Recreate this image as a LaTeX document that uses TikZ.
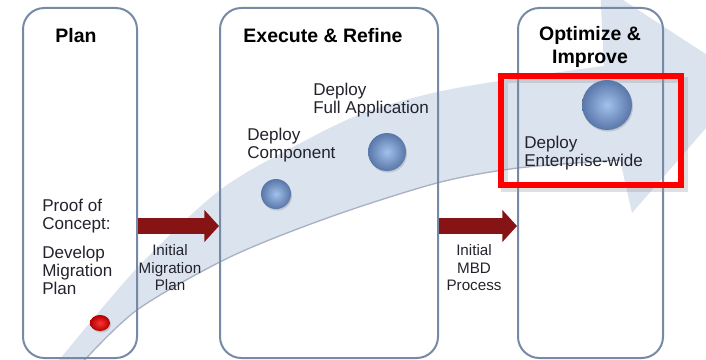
\documentclass[tikz,border=0pt]{standalone}
\usepackage{fontspec}
\setmainfont{Liberation Sans}
\usetikzlibrary{arrows.meta,shapes.geometric,shadows}
\definecolor{phaseline}{RGB}{118,138,166}
\definecolor{bandblue}{RGB}{219,227,238}
\definecolor{bandedge}{RGB}{168,178,194}
\definecolor{ballhi}{RGB}{162,194,236}
\definecolor{ballrim}{RGB}{88,118,168}
\definecolor{arrowred}{RGB}{135,20,20}
\definecolor{textgray}{RGB}{35,35,45}

\begin{document}
\begin{tikzpicture}[x=0.75pt,y=-0.75pt]

\tikzstyle{phase} = [draw=phaseline, line width=1.5pt, rounded corners=16pt,
minimum height=262.5pt, inner sep=0]
\tikzstyle{title} = [font=\bfseries\fontsize{14.6}{17.2}\selectfont, align=center, inner sep=0]
\tikzstyle{txt} = [font=\fontsize{12.8}{13.5}\selectfont, text=textgray, align=left, anchor=west, inner sep=0]
\tikzstyle{smalltxt} = [font=\fontsize{11.4}{13.1}\selectfont, text=textgray, align=center, inner sep=0]
\tikzstyle{sphere} = [circle, inner sep=0, shading=radial, inner color=ballhi, outer color=ballrim,
drop shadow={opacity=0.3, shadow xshift=0.8pt, shadow yshift=-1.2pt}]
\tikzstyle{move} = [draw=arrowred, line width=11.5pt, -{Triangle[length=11pt,width=23.5pt]}]
\tikzstyle{focusbox} = [draw=red, line width=4.5pt, minimum width=135pt, minimum height=81.75pt,
inner sep=0, general shadow={shadow xshift=2.5pt, shadow yshift=-3pt, draw=black!40, line width=5pt, opacity=0.3}]

\useasboundingbox (0,0) rectangle (706,360);

% big swoosh arrow behind the phases
\begin{scope}
\clip (0,0) rectangle (706,360);
\fill[bandblue] plot[smooth] coordinates {(55,365) (137,268) (220,190) (297,145) (363,113) (437,92) (518,78) (604,66)}
 -- (600,-15) -- (747,81) -- (632,213)
 -- plot[smooth] coordinates {(620,160) (518,168) (437,183) (330,217) (230,257) (137,310) (80,365)} -- cycle;
\draw[bandedge, line width=1pt] plot[smooth] coordinates {(620,160) (518,168) (437,183) (330,217) (230,257) (137,310) (80,365)};
\end{scope}

% phases
\node [phase, minimum width=85.5pt] (plan) at (80,183) {};
\node [phase, minimum width=163.5pt] (exec) at (329,183) {};
\node [phase, minimum width=108.75pt] (optim) at (590.5,183) {};

\node [title] (plantitle) at (76,36) {Plan};
\node [title] (exectitle) at (323,36) {Execute \& Refine};
\node [title] (optimtitle) at (590,47) {Optimize \&\\Improve};

% milestones
\node [ellipse, inner sep=0, minimum width=15pt, minimum height=12pt, shading=radial,
inner color=red!80!white, outer color=red!70!black,
drop shadow={opacity=0.3, shadow xshift=0.8pt, shadow yshift=-1.2pt}] (poc) at (100,323) {};
\node [sphere, minimum size=22.5pt] (comp) at (276,194) {};
\node [sphere, minimum size=28.5pt] (full) at (387,152) {};
\node [focusbox] (focus) at (591,130.5) {};
\node [sphere, minimum size=37.5pt] (ent) at (607,105) {};

\node [txt] (proof) at (42,216) {Proof of\\Concept:};
\node [txt] (develop) at (42,270) {Develop\\Migration\\Plan};
\node [txt] (comptxt) at (247,145) {Deploy\\Component};
\node [txt] (fulltxt) at (313,100) {Deploy\\Full Application};
\node [txt] (enttxt) at (524,153) {Deploy\\Enterprise-wide};

% hand-over between phases
\draw[move] (plan.east |- 0,226) -- (exec.west |- 0,226);
\draw[move] (exec.east |- 0,226) -- (optim.west |- 0,226);

\node [smalltxt] (migplan) at (170,268) {Initial\\Migration\\Plan};
\node [smalltxt] (mbd) at (474,268) {Initial\\MBD\\Process};

\end{tikzpicture}
\end{document}
